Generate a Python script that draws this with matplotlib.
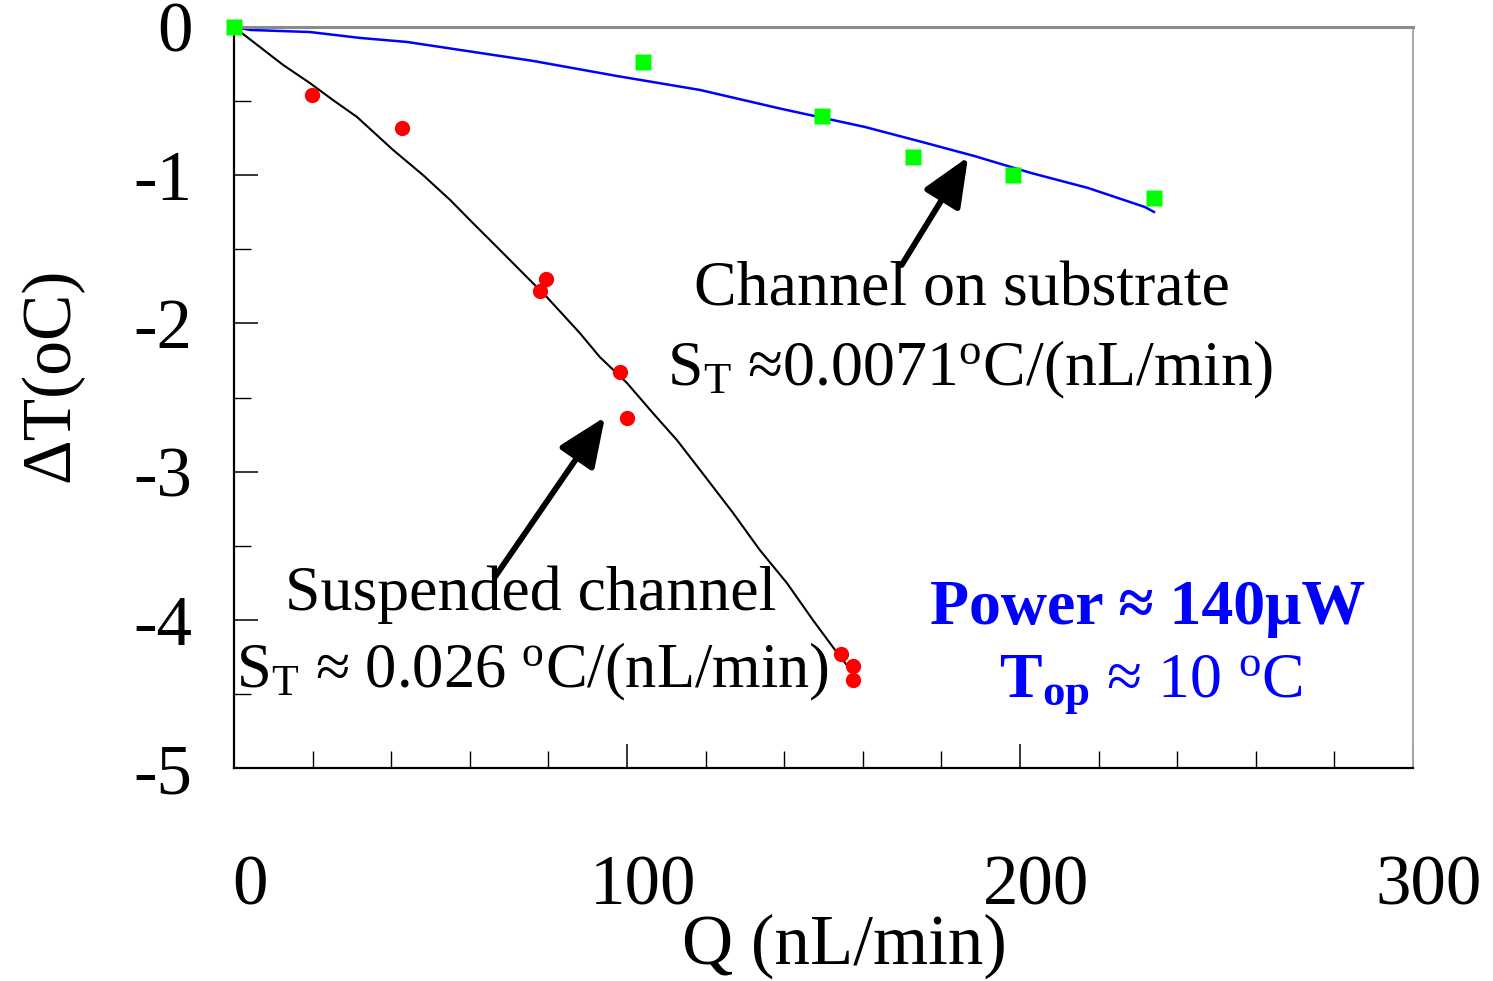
import matplotlib
matplotlib.use("Agg")
import matplotlib.pyplot as plt
import matplotlib.transforms as mtrans
from matplotlib.ticker import MultipleLocator

plt.rcParams['font.family'] = ['Liberation Serif', 'DejaVu Serif']
plt.rcParams['mathtext.fontset'] = 'custom'
plt.rcParams['mathtext.rm'] = 'Liberation Serif'
plt.rcParams['mathtext.it'] = 'Liberation Serif:italic'
plt.rcParams['mathtext.bf'] = 'Liberation Serif:bold'
plt.rcParams['axes.unicode_minus'] = False

# measured points, suspended channel (red) and channel on substrate (green)
susp_q = [19.8, 42.7, 77.9, 79.3, 98.2, 100.1, 154.4, 157.6, 157.6]
susp_dt = [-0.459, -0.68, -1.779, -1.702, -2.326, -2.640, -4.231, -4.312, -4.406]
subs_q = [0, 104.1, 149.6, 172.7, 198.2, 234.2]
subs_dt = [0, -0.236, -0.60, -0.875, -0.997, -1.152]

# model curves
susp_line_q = [0, 6.6, 12.5, 19.3, 25.2, 31.3, 40.5, 48.1, 55.0, 60.8, 66.9,
               73.5, 79.6, 88.0, 93.1, 100.0, 106.6, 112.7, 118.6, 127.0,
               133.8, 140.7, 147.3, 152.4, 157.5, 157.9]
susp_line_dt = [0, -0.135, -0.256, -0.378, -0.493, -0.607, -0.830, -0.999,
                -1.167, -1.323, -1.484, -1.660, -1.822, -2.065, -2.227, -2.402,
                -2.605, -2.787, -2.989, -3.279, -3.529, -3.752, -4.001, -4.184,
                -4.359, -4.40]
subs_line_q = [0, 4.1, 19.3, 32.1, 44.0, 59.3, 76.1, 97.5, 118.6, 139.4, 160.6,
               175.1, 188.3, 202.8, 217.3, 231.8, 234.1]
subs_line_dt = [0, -0.02, -0.034, -0.074, -0.101, -0.162, -0.229, -0.331,
                -0.425, -0.553, -0.675, -0.776, -0.870, -0.985, -1.086, -1.215,
                -1.248]

xticks = [0, 100, 200, 300]
yticks = [0, -1, -2, -3, -4, -5]

fig = plt.figure(figsize=(14.93, 9.81), dpi=100)
ax = fig.add_axes([0.1567, 0.2171, 0.7897, 0.7554])

ax.plot(susp_line_q, susp_line_dt, color='black', lw=1.5, zorder=2)
ax.plot(subs_line_q, subs_line_dt, color='#0000ff', lw=1.8, zorder=2)
ax.plot(susp_q, susp_dt, 'o', color='#ff0000', ms=11, mec='none', zorder=3,
        clip_on=False)
ax.plot(subs_q, subs_dt, 's', color='#00ff00', ms=11, mec='none', zorder=3,
        clip_on=False)

ax.set_xlim(0, 300)
ax.set_ylim(-5, 0)
ax.set_xticks(xticks)
ax.set_yticks(yticks)
ax.set_xticklabels([str(v) for v in xticks])
ax.set_yticklabels([str(v) for v in yticks])
ax.xaxis.set_minor_locator(MultipleLocator(20))
ax.yaxis.set_minor_locator(MultipleLocator(0.5))
ax.tick_params(which='both', direction='in', top=False, right=False,
               labelsize=51, color='black')
ax.tick_params(which='major', length=17, width=1.1)
ax.tick_params(which='minor', length=12, width=1.0)
ax.tick_params(axis='x', pad=62)
ax.tick_params(axis='y', pad=30)

# x tick labels sit a little right of their ticks in the original
offset = mtrans.ScaledTranslation(0.16, 0, fig.dpi_scale_trans)
for lab in ax.xaxis.get_majorticklabels():
    lab.set_transform(lab.get_transform() + offset)

for side in ['left', 'bottom']:
    ax.spines[side].set_color('black')
    ax.spines[side].set_linewidth(1.6)
ax.spines['top'].set_color('#8a8a8a')
ax.spines['top'].set_linewidth(2.2)
ax.spines['right'].set_color('#a8a8a8')
ax.spines['right'].set_linewidth(1.4)

ax.set_xlabel('Q (nL/min)', fontsize=51)
ax.xaxis.set_label_coords(0.518, -0.197)
ax.set_ylabel('ΔT(oC)', fontsize=50)
ax.yaxis.set_label_coords(-0.128, 0.53)

arrow = dict(arrowstyle='-|>,head_length=0.75,head_width=0.32', lw=4.2,
             color='black', mutation_scale=40, shrinkA=0, shrinkB=0)
ax.annotate('', xy=(186.8, -0.877), xytext=(169.9, -1.606), arrowprops=arrow)
ax.annotate('', xy=(94.4, -2.632), xytext=(66.4, -3.711), arrowprops=arrow)

ax.text(185.2, -1.775, 'Channel on substrate', fontsize=46,
        ha='center', va='center')
ax.text(187.3, -2.314, r'S$_\mathrm{T}$ ≈0.0071$^\mathrm{o}$C/(nL/min)',
        fontsize=46, ha='center', va='center')
ax.text(75.6, -3.83, 'Suspended channel', fontsize=46, ha='center',
        va='center')
ax.text(76.1, -4.35, r'S$_\mathrm{T}$ ≈ 0.026 $^\mathrm{o}$C/(nL/min)',
        fontsize=45, ha='center', va='center')
ax.text(232.6, -3.93, 'Power ≈ 140μW', fontsize=46, fontweight='bold',
        color='#0000ff', ha='center', va='center')
ax.text(233.3, -4.44, r'$\mathbf{T_{op}}$ ≈ 10 $^\mathrm{o}$C', fontsize=46,
        color='#0000ff', ha='center', va='center')

fig.savefig('out.png', dpi=100)
